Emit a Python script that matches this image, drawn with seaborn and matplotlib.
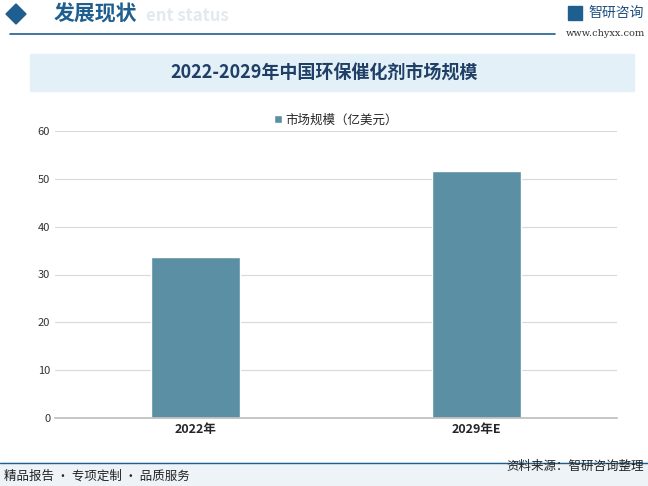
import matplotlib
matplotlib.use("Agg")
import matplotlib.pyplot as plt
import seaborn as sns
import pandas as pd
from matplotlib.patches import Rectangle, Polygon

categories = ["2022年", "2029年E"]
values = [33.6, 51.7]
series_name = "市场规模（亿美元）"

sns.set_theme(style="white")
plt.rcParams['font.family'] = ['Noto Sans CJK SC', 'DejaVu Sans']

fig = plt.figure(figsize=(6.48, 4.86), dpi=100)
W, H = 648, 486
def fx(x): return x / W
def fy(y): return 1 - y / H

# header
fig.patches.append(Polygon([[fx(6), fy(14)], [fx(16), fy(4)], [fx(26), fy(14)], [fx(16), fy(24)]],
                           closed=True, transform=fig.transFigure, color="#1f5f8f"))
fig.text(fx(146), fy(16), "ent status", color="#e3e9ef", fontsize=12, fontweight="bold", va="center")
fig.text(fx(54), fy(14), "发展现状", color="#1f5f8f", fontsize=15, fontweight="bold", va="center")
fig.add_artist(plt.Line2D([fx(10), fx(555)], [fy(34), fy(34)], color="#1f5f8f", lw=1.2, transform=fig.transFigure))
fig.text(fx(588), fy(13), "智研咨询", color="#1f4f80", fontsize=10, va="center")
fig.patches.append(Rectangle((fx(568), fy(20)), fx(14), 14/H, transform=fig.transFigure, color="#1f5f8f"))
fig.text(fx(645), fy(33), "www.chyxx.com", color="#333333", fontsize=7, va="center", ha="right", family="DejaVu Serif")

# title band
fig.patches.append(Rectangle((fx(30), fy(91)), fx(604), 37/H, transform=fig.transFigure, color="#e4f0f8"))
fig.text(0.5, fy(73), "2022-2029年中国环保催化剂市场规模", color="#1f3f66", fontsize=13, fontweight="bold",
         ha="center", va="center")

# footer
fig.patches.append(Rectangle((0, 0), 1, 24/H, transform=fig.transFigure, color="#eef3f8"))
fig.add_artist(plt.Line2D([0, 1], [fy(463), fy(463)], color="#1f5f8f", lw=1, transform=fig.transFigure))
fig.text(fx(4), fy(476), "精品报告 · 专项定制 · 品质服务", color="#222222", fontsize=9, va="center")
fig.text(fx(644), fy(466), "资料来源：智研咨询整理", color="#222222", fontsize=9, va="center", ha="right")

ax = fig.add_axes([fx(55), fy(418), fx(562), (418 - 131) / H])
df = pd.DataFrame({"cat": categories, "val": values})
sns.barplot(data=df, x="cat", y="val", color="#5b8fa3", width=0.32, ax=ax, saturation=1,
            label=series_name)
ax.set_ylim(0, 60)
ax.set_yticks(range(0, 61, 10))
ax.set_xlabel("")
ax.set_ylabel("")
ax.grid(axis="y", color="#d9d9d9", lw=0.8)
ax.set_axisbelow(True)
for s in ["top", "right", "left"]:
    ax.spines[s].set_visible(False)
ax.spines["bottom"].set_color("#bfbfbf")
ax.tick_params(axis="y", labelsize=8, colors="#333333", length=0)
ax.tick_params(axis="x", labelsize=9, length=0)
for t in ax.get_xticklabels():
    t.set_fontweight("bold")
ax.legend(loc="upper center", bbox_to_anchor=(0.5, 1.1), frameon=False, fontsize=9,
          handlelength=0.6, handleheight=0.6, handletextpad=0.3)
fig.savefig("out.png", dpi=100)
